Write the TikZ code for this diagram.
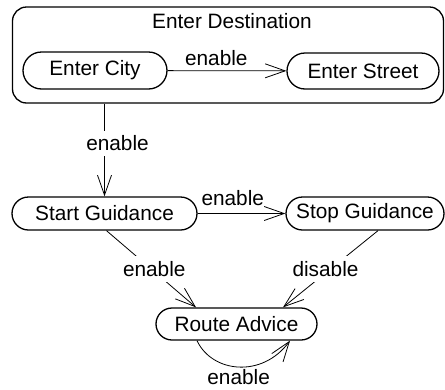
\documentclass[tikz,border=0pt]{standalone}
\usepackage{fontspec}
\setmainfont{Liberation Sans}
\usetikzlibrary{shapes.misc,arrows.meta}
\begin{document}
\begin{tikzpicture}[x=1pt,y=-1pt,
  font=\fontsize{20.8}{24}\selectfont,
  state/.style={rounded rectangle, draw, line width=1.3pt, inner sep=0pt},
  tr/.style={draw, line width=0.8pt, -{Straight Barb[length=20pt,width=14pt,line width=0.8pt]}},
  lbl/.style={fill=white, inner sep=5pt}]
\useasboundingbox (0,0) rectangle (445,389);
% composite state
\node[draw, rounded corners=14pt, line width=1.3pt, minimum width=431pt, minimum height=96pt, inner sep=0pt] (dest) at (228,55) {};
\node (desttitle) at (232,20.7) {Enter Destination};
\node[state, minimum width=144pt, minimum height=37pt] (city) at (95,70.5) {Enter City};
\node[state, minimum width=152pt, minimum height=36pt] (street) at (363,71) {Enter Street};
% states
\node[state, minimum width=185pt, minimum height=33pt] (sg) at (104.5,213.5) {Start Guidance};
\node[state, minimum width=158pt, minimum height=33pt] (stop) at (365,213.5) {Stop Guidance};
\node[state, minimum width=161pt, minimum height=32pt] (ra) at (236.5,324) {Route Advice};
% transitions
\draw[tr] (city) -- node[above, pos=0.41, inner sep=5pt] {enable} (street);
\draw[tr] (dest.south -| sg.north) -- node[lbl, pos=0.43, xshift=13pt] {enable} (sg.north);
\draw[tr] (sg) -- node[above, pos=0.40, inner sep=7pt] {enable} (stop);
\draw[tr] ([xshift=2pt]sg.south) -- node[lbl, xshift=3pt] {enable} ([xshift=-40.5pt]ra.north);
\draw[tr] ([xshift=13pt]stop.south) -- node[lbl, xshift=-5pt] {disable} ([xshift=46.5pt]ra.north);
\draw[tr] ([xshift=-39.5pt]ra.south) .. controls +(15,32) and +(-28,38) .. node[below, pos=0.5, inner sep=2pt] {enable} ([xshift=53.5pt]ra.south);
\end{tikzpicture}
\end{document}
